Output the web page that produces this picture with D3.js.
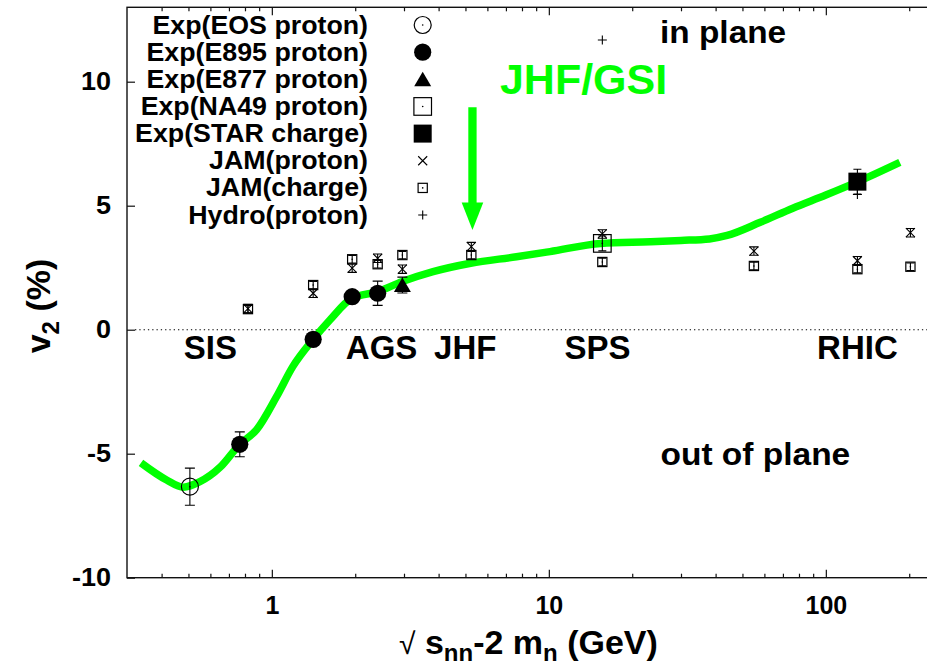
<!DOCTYPE html>
<html>
<head>
<meta charset="utf-8">
<script src="https://cdn.jsdelivr.net/npm/d3@7"></script>
<style>
  html, body { margin: 0; padding: 0; background: #fff; }
  svg { display: block; }
</style>
</head>
<body>
<svg id="chart"></svg>
<script>
/* ══════════════════════════════════════════════════════
   v2 (%) vs sqrt(s_nn) - 2 m_n  — elliptic flow excitation
   function, log x axis, gnuplot-style frame
══════════════════════════════════════════════════════ */

// ── Data ──────────────────────────────────────────────
const eosX   = [0.506];
const eosY   = [-6.33];
const eosErr = [0.75];

const e895X   = [0.766, 1.41, 1.95, 2.41];
const e895Y   = [-4.62, -0.39, 1.33, 1.47];
const e895Err = [0.50, 0.25, 0.25, 0.49];

const e877X   = [2.96];
const e877Y   = [1.80];
const e877Err = [0.32];

const na49X   = [15.6];
const na49Y   = [3.48];
const na49Err = [0.30];

const starX   = [130];
const starY   = [5.97];
const starErr = [0.50];

const jamX      = [0.82, 1.41, 1.95, 2.41, 2.96, 5.25, 15.6, 55, 130, 202];
const jamProtY  = [0.85, 1.47, 2.48, 2.88, 2.44, 3.35, 3.86, 3.17, 2.78, 3.91];
const jamProtErr= [0.17, 0.17, 0.17, 0.17, 0.17, 0.17, 0.17, 0.17, 0.17, 0.17];
const jamChgY   = [0.83, 1.80, 2.84, 2.64, 3.01, 3.01, 2.73, 2.57, 2.44, 2.54];
const jamChgErr = [0.15, 0.15, 0.15, 0.15, 0.15, 0.15, 0.15, 0.15, 0.15, 0.15];

const hydroX = [15.6, 130];
const hydroY = [11.68, 5.45];

// green guide curve
const curveX = [0.337, 0.417, 0.479, 0.55, 0.65, 0.766, 0.88, 1.04, 1.19, 1.41, 1.62,
                1.95, 2.41, 2.96, 3.82, 5.22, 7.64, 10.1, 15.4, 23.2, 30, 38, 44,
                58, 76, 100, 128, 185];
const curveY = [-5.37, -6.06, -6.35, -6.13, -5.55, -4.62, -4.04, -2.70, -1.49, -0.39, 0.39,
                1.27, 1.53, 1.94, 2.34, 2.68, 2.94, 3.15, 3.48, 3.55, 3.60, 3.66, 3.80,
                4.33, 4.90, 5.43, 5.93, 6.75];

// annotations
const regionNames = ['SIS', 'AGS', 'JHF', 'SPS', 'RHIC'];
const regionX     = [0.60, 2.49, 4.99, 15.0, 130];
const regionY     = -1.18;

const arrowX   = 5.3;
const arrowTop = 8.97;
const arrowTip = 4.02;

const xMajor = [1, 10, 100];
const xMinor = [0.4, 0.5, 0.6, 0.7, 0.8, 0.9, 2, 3, 4, 5, 6, 7, 8, 9,
                20, 30, 40, 50, 60, 70, 80, 90, 200];
const yTicks = [-10, -5, 0, 5, 10];

const legendLabels = ['Exp(EOS proton)', 'Exp(E895 proton)', 'Exp(E877 proton)',
                      'Exp(NA49 proton)', 'Exp(STAR charge)', 'JAM(proton)',
                      'JAM(charge)', 'Hydro(proton)'];
const legendSymbols = ['circleOpen', 'circleFilled', 'triangle', 'squareOpen',
                       'squareFilled', 'cross', 'boxDot', 'plus'];

// ── Layout ────────────────────────────────────────────
const W = 927, H = 666;
const FONT  = "'Liberation Sans', Arial, Helvetica, sans-serif";
const GREEN = '#00ff00';
const plot  = { left: 127, top: 7.3, right: 958, bottom: 577.7 };

const svg = d3.select('#chart').attr('width', W).attr('height', H);

const x = d3.scaleLog().domain([0.3, 300]).range([plot.left, plot.right]);
const y = d3.scaleLinear().domain([-10, 13]).range([plot.bottom, plot.top]);

// stretch text horizontally a bit (gnuplot fonts run wide)
function stretch(sel, k) {
  sel.each(function() {
    const w = this.getComputedTextLength();
    d3.select(this).attr('textLength', w * k).attr('lengthAdjust', 'spacingAndGlyphs');
  });
  return sel;
}

// ── Frame + axes ──────────────────────────────────────
svg.append('rect')
  .attr('x', plot.left).attr('y', plot.top)
  .attr('width', plot.right - plot.left).attr('height', plot.bottom - plot.top)
  .attr('fill', 'none').attr('stroke', '#111').attr('stroke-width', 1.4);

const tickStyle = sel => sel
  .call(ax => ax.select('.domain').remove())
  .call(ax => ax.selectAll('.tick line').attr('stroke', '#111').attr('stroke-width', 1.2))
  .call(ax => ax.selectAll('text')
    .attr('fill', '#000').attr('font-size', 25).attr('font-weight', 'bold')
    .attr('font-family', FONT));

// plain hyphen-minus labels, like gnuplot
const plainNum = d => String(d);

// bottom
svg.append('g')
  .attr('transform', `translate(0,${plot.bottom})`)
  .call(d3.axisBottom(x).tickValues(xMajor).tickSize(-8).tickPadding(18.5)
    .tickFormat(plainNum))
  .call(tickStyle);
svg.append('g')
  .attr('transform', `translate(0,${plot.bottom})`)
  .call(d3.axisBottom(x).tickValues(xMinor).tickSize(-4).tickFormat(''))
  .call(tickStyle);

// top (mirror ticks)
svg.append('g')
  .attr('transform', `translate(0,${plot.top})`)
  .call(d3.axisTop(x).tickValues(xMajor).tickSize(-8).tickFormat(''))
  .call(tickStyle);
svg.append('g')
  .attr('transform', `translate(0,${plot.top})`)
  .call(d3.axisTop(x).tickValues(xMinor).tickSize(-4).tickFormat(''))
  .call(tickStyle);

// left
svg.append('g')
  .attr('transform', `translate(${plot.left},0)`)
  .call(d3.axisLeft(y).tickValues(yTicks).tickSize(-8).tickPadding(16)
    .tickFormat(plainNum))
  .call(tickStyle)
  .call(ax => stretch(ax.selectAll('text'), 1.08));

// zero line
svg.append('line')
  .attr('x1', plot.left + 8).attr('x2', plot.right)
  .attr('y1', y(0)).attr('y2', y(0))
  .attr('stroke', '#000').attr('stroke-width', 1.1)
  .attr('stroke-dasharray', '1.3 3');

// ── Axis titles ───────────────────────────────────────
const xt = svg.append('text')
  .attr('x', 399).attr('y', 654)
  .attr('font-family', FONT).attr('font-size', 34).attr('font-weight', 'bold')
  .attr('fill', '#000');
xt.append('tspan').attr('font-weight', 'normal').attr('font-size', 30).text('\u221A');
xt.append('tspan').text(' s');
xt.append('tspan').attr('font-size', 24).attr('dy', 7).text('nn');
xt.append('tspan').attr('dy', -7).text('-2 m');
xt.append('tspan').attr('font-size', 24).attr('dy', 7).text('n');
xt.append('tspan').attr('dy', -7).text(' (GeV)');

const yt = svg.append('text')
  .attr('transform', 'translate(50,306) rotate(-90)')
  .attr('text-anchor', 'middle')
  .attr('font-family', FONT).attr('font-size', 34).attr('font-weight', 'bold')
  .attr('fill', '#000');
yt.append('tspan').text('v');
yt.append('tspan').attr('font-size', 24).attr('dy', 9).text('2');
yt.append('tspan').attr('dy', -9).text(' (%)');

// ── Green curve ───────────────────────────────────────
const curvePts = curveX.map((d, i) => [x(d), y(curveY[i])]);
svg.append('path')
  .datum(curvePts)
  .attr('d', d3.line().curve(d3.curveMonotoneX))
  .attr('fill', 'none')
  .attr('stroke', GREEN)
  .attr('stroke-width', 7.5)
  .attr('stroke-linecap', 'butt');

// ── Symbols ───────────────────────────────────────────
function drawSymbol(g, type, cx, cy) {
  const k = '#000';
  switch (type) {
    case 'circleOpen':
      g.append('circle').attr('cx', cx).attr('cy', cy).attr('r', 8.5)
        .attr('fill', 'none').attr('stroke', k).attr('stroke-width', 1.2);
      g.append('circle').attr('cx', cx).attr('cy', cy).attr('r', 0.8).attr('fill', k);
      break;
    case 'circleFilled':
      g.append('circle').attr('cx', cx).attr('cy', cy).attr('r', 8.6).attr('fill', k);
      break;
    case 'triangle':
      g.append('path')
        .attr('d', `M${cx},${cy - 7.5}L${cx - 8.5},${cy + 7}L${cx + 8.5},${cy + 7}Z`)
        .attr('fill', k);
      break;
    case 'squareOpen':
      g.append('rect').attr('x', cx - 8.8).attr('y', cy - 8.8)
        .attr('width', 17.6).attr('height', 17.6)
        .attr('fill', 'none').attr('stroke', k).attr('stroke-width', 1.2);
      g.append('circle').attr('cx', cx).attr('cy', cy).attr('r', 0.8).attr('fill', k);
      break;
    case 'squareFilled':
      g.append('rect').attr('x', cx - 9).attr('y', cy - 9)
        .attr('width', 18).attr('height', 18).attr('fill', k);
      break;
    case 'cross':
      g.append('path')
        .attr('d', `M${cx - 4.5},${cy - 4.5}L${cx + 4.5},${cy + 4.5}M${cx - 4.5},${cy + 4.5}L${cx + 4.5},${cy - 4.5}`)
        .attr('stroke', k).attr('stroke-width', 1.1);
      break;
    case 'boxDot':
      g.append('rect').attr('x', cx - 4.6).attr('y', cy - 4.6)
        .attr('width', 9.2).attr('height', 9.2)
        .attr('fill', 'none').attr('stroke', k).attr('stroke-width', 1.2);
      g.append('circle').attr('cx', cx).attr('cy', cy).attr('r', 0.8).attr('fill', k);
      break;
    case 'plus':
      g.append('path')
        .attr('d', `M${cx - 4.5},${cy}L${cx + 4.5},${cy}M${cx},${cy - 4.5}L${cx},${cy + 4.5}`)
        .attr('stroke', k).attr('stroke-width', 1.1);
      break;
  }
}

function drawErrors(g, xs, ys, errs, cap) {
  xs.forEach((d, i) => {
    const cx = x(d), y0 = y(ys[i] - errs[i]), y1 = y(ys[i] + errs[i]);
    g.append('path')
      .attr('d', `M${cx},${y0}L${cx},${y1}M${cx - cap},${y0}L${cx + cap},${y0}M${cx - cap},${y1}L${cx + cap},${y1}`)
      .attr('fill', 'none').attr('stroke', '#000').attr('stroke-width', 1.1);
  });
}

function drawSeries(g, type, xs, ys) {
  xs.forEach((d, i) => drawSymbol(g, type, x(d), y(ys[i])));
}

const pts = svg.append('g');
drawErrors(pts, jamX, jamChgY, jamChgErr, 4);
drawSeries(pts, 'boxDot', jamX, jamChgY);
drawErrors(pts, jamX, jamProtY, jamProtErr, 4.5);
drawSeries(pts, 'cross', jamX, jamProtY);
drawSeries(pts, 'plus', hydroX, hydroY);

drawErrors(pts, eosX, eosY, eosErr, 5);
drawSeries(pts, 'circleOpen', eosX, eosY);
drawErrors(pts, e895X, e895Y, e895Err, 5);
drawSeries(pts, 'circleFilled', e895X, e895Y);
drawErrors(pts, e877X, e877Y, e877Err, 5);
drawSeries(pts, 'triangle', e877X, e877Y);
drawErrors(pts, na49X, na49Y, na49Err, 4);
drawSeries(pts, 'squareOpen', na49X, na49Y);
drawErrors(pts, starX, starY, starErr, 4);
drawSeries(pts, 'squareFilled', starX, starY);

// ── Annotations ───────────────────────────────────────
svg.append('g').selectAll('text')
  .data(regionNames)
  .join('text')
    .attr('x', (d, i) => x(regionX[i]))
    .attr('y', y(regionY))
    .attr('text-anchor', 'middle')
    .attr('font-family', FONT).attr('font-size', 33).attr('font-weight', 'bold')
    .attr('fill', '#000')
    .text(d => d);

svg.append('text')
  .attr('x', x(25.2)).attr('y', y(11.55))
  .attr('font-family', FONT).attr('font-size', 31.5).attr('font-weight', 'bold')
  .attr('fill', '#000')
  .text('in plane')
  .call(s => stretch(s, 1.06));

svg.append('text')
  .attr('x', x(25.3)).attr('y', y(-5.46))
  .attr('font-family', FONT).attr('font-size', 31).attr('font-weight', 'bold')
  .attr('fill', '#000')
  .text('out of plane')
  .call(s => stretch(s, 1.08));

svg.append('text')
  .attr('x', x(6.66)).attr('y', y(9.5))
  .attr('font-family', FONT).attr('font-size', 43).attr('font-weight', 'bold')
  .attr('fill', GREEN)
  .text('JHF/GSI');

// arrow
const ax0 = x(arrowX), headLen = 27.5;
svg.append('line')
  .attr('x1', ax0).attr('x2', ax0)
  .attr('y1', y(arrowTop)).attr('y2', y(arrowTip) - headLen + 1)
  .attr('stroke', GREEN).attr('stroke-width', 8.3);
svg.append('path')
  .attr('d', `M${ax0},${y(arrowTip)}L${ax0 - 10.8},${y(arrowTip) - headLen}L${ax0 + 10.8},${y(arrowTip) - headLen}Z`)
  .attr('fill', GREEN);

// ── Legend ────────────────────────────────────────────
const legend = svg.append('g');
legendLabels.forEach((label, i) => {
  const cy = 25 + i * 27.15;
  legend.append('text')
    .attr('x', 368).attr('y', cy + 8.5)
    .attr('text-anchor', 'end')
    .attr('font-family', FONT).attr('font-size', 25).attr('font-weight', 'bold')
    .attr('fill', '#000')
    .text(label)
    .call(s => stretch(s, 1.07));
  drawSymbol(legend, legendSymbols[i], 422.7, cy);
});
</script>
</body>
</html>
